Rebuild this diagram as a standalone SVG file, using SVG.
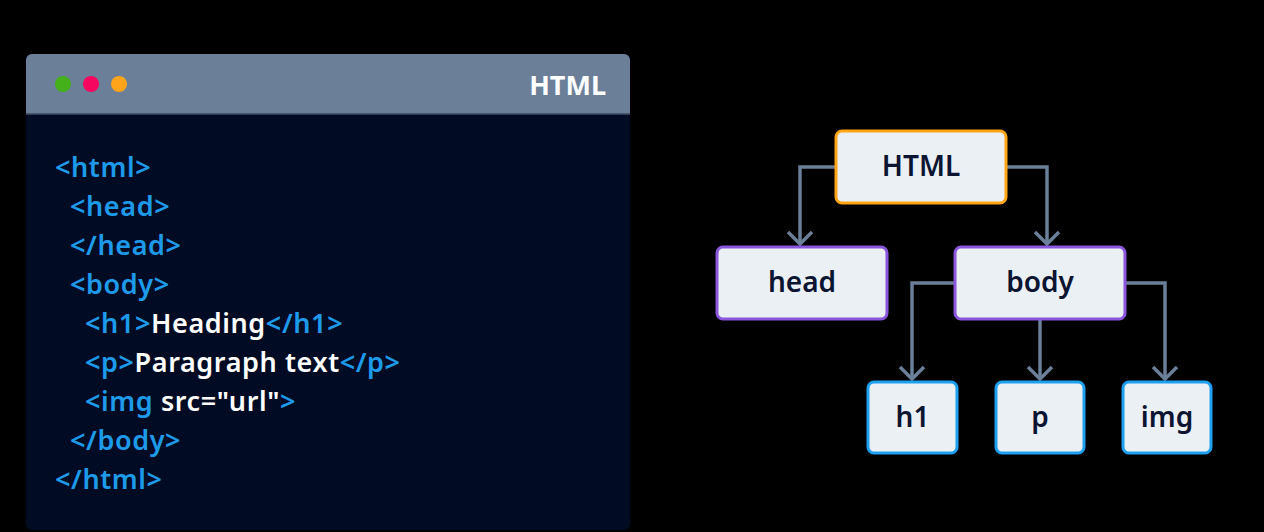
<svg xmlns="http://www.w3.org/2000/svg" width="1264" height="532" viewBox="0 0 1264 532">
  <defs>
    <style>
      .code { font-family: "Noto Sans", "DejaVu Sans", sans-serif; font-size: 27px; font-weight: 600; letter-spacing: 0.6px; }
      .tag { fill: #1d9bea; }
      .txt { fill: #ffffff; }
      .node rect { fill: #ebf0f5; stroke-width: 3; }
      .node text { font-family: "Noto Sans", "DejaVu Sans", sans-serif; font-size: 28px; font-weight: 600; fill: #0b1430; text-anchor: middle; }
      .root rect { stroke: #ffa412; }
      .mid rect { stroke: #8a56dc; }
      .leaf rect { stroke: #1ea0f0; }
      .conn path { fill: none; stroke: #6b7f99; stroke-width: 3.5; }
    </style>
    <marker id="arrow" markerUnits="userSpaceOnUse" markerWidth="20" markerHeight="32" viewBox="-16 -16 20 32" refX="0" refY="0" orient="auto">
      <path d="M-12,-12 L0,0 L-12,12" fill="none" stroke="#6b7f99" stroke-width="3.5"/>
    </marker>
  </defs>
  <rect x="0" y="0" width="1264" height="532" fill="#000000"/>

  <g id="editor">
    <rect x="26" y="54" width="604" height="476" rx="6" fill="#020b24"/>
    <path d="M26,114 V60 a6,6 0 0 1 6,-6 H624 a6,6 0 0 1 6,6 V114 Z" fill="#6b7f99"/>
    <line x1="26" y1="114" x2="630" y2="114" stroke="#3c4a63" stroke-width="1.5"/>
    <circle cx="63" cy="84" r="8" fill="#44b01a"/>
    <circle cx="91" cy="84" r="8" fill="#f5065f"/>
    <circle cx="119" cy="84" r="8" fill="#fea41a"/>
    <text x="606" y="95" font-family="Noto Sans, DejaVu Sans, sans-serif" font-size="27" font-weight="700" fill="#ffffff" text-anchor="end">HTML</text>
    <g class="code">
      <text x="55" y="177" class="tag">&lt;html&gt;</text>
      <text x="70" y="216" class="tag">&lt;head&gt;</text>
      <text x="70" y="255" class="tag">&lt;/head&gt;</text>
      <text x="70" y="294" class="tag">&lt;body&gt;</text>
      <text x="85" y="333"><tspan class="tag">&lt;h1&gt;</tspan><tspan class="txt">Heading</tspan><tspan class="tag">&lt;/h1&gt;</tspan></text>
      <text x="85" y="372"><tspan class="tag">&lt;p&gt;</tspan><tspan class="txt">Paragraph text</tspan><tspan class="tag">&lt;/p&gt;</tspan></text>
      <text x="85" y="411"><tspan class="tag">&lt;img</tspan><tspan class="txt"> src="url"</tspan><tspan class="tag">&gt;</tspan></text>
      <text x="70" y="450" class="tag">&lt;/body&gt;</text>
      <text x="55" y="489" class="tag">&lt;/html&gt;</text>
    </g>
  </g>

  <g id="connectors" class="conn">
    <path d="M836,167 H800 V244" marker-end="url(#arrow)"/>
    <path d="M1006,167 H1047 V244" marker-end="url(#arrow)"/>
    <path d="M955,283 H912 V379" marker-end="url(#arrow)"/>
    <path d="M1040,319 V379" marker-end="url(#arrow)"/>
    <path d="M1125,283 H1165 V379" marker-end="url(#arrow)"/>
  </g>

  <g id="node-html" class="node root">
    <rect x="836" y="131" width="170" height="72" rx="6"/>
    <text x="921" y="176">HTML</text>
  </g>
  <g id="node-head" class="node mid">
    <rect x="717" y="247" width="170" height="72" rx="6"/>
    <text x="802" y="292">head</text>
  </g>
  <g id="node-body" class="node mid">
    <rect x="955" y="247" width="170" height="72" rx="6"/>
    <text x="1040" y="292">body</text>
  </g>
  <g id="node-h1" class="node leaf">
    <rect x="868" y="382" width="89" height="71" rx="6"/>
    <text x="912.5" y="427">h1</text>
  </g>
  <g id="node-p" class="node leaf">
    <rect x="996" y="382" width="88" height="71" rx="6"/>
    <text x="1040" y="427">p</text>
  </g>
  <g id="node-img" class="node leaf">
    <rect x="1123" y="382" width="88" height="71" rx="6"/>
    <text x="1167" y="427">img</text>
  </g>
</svg>
